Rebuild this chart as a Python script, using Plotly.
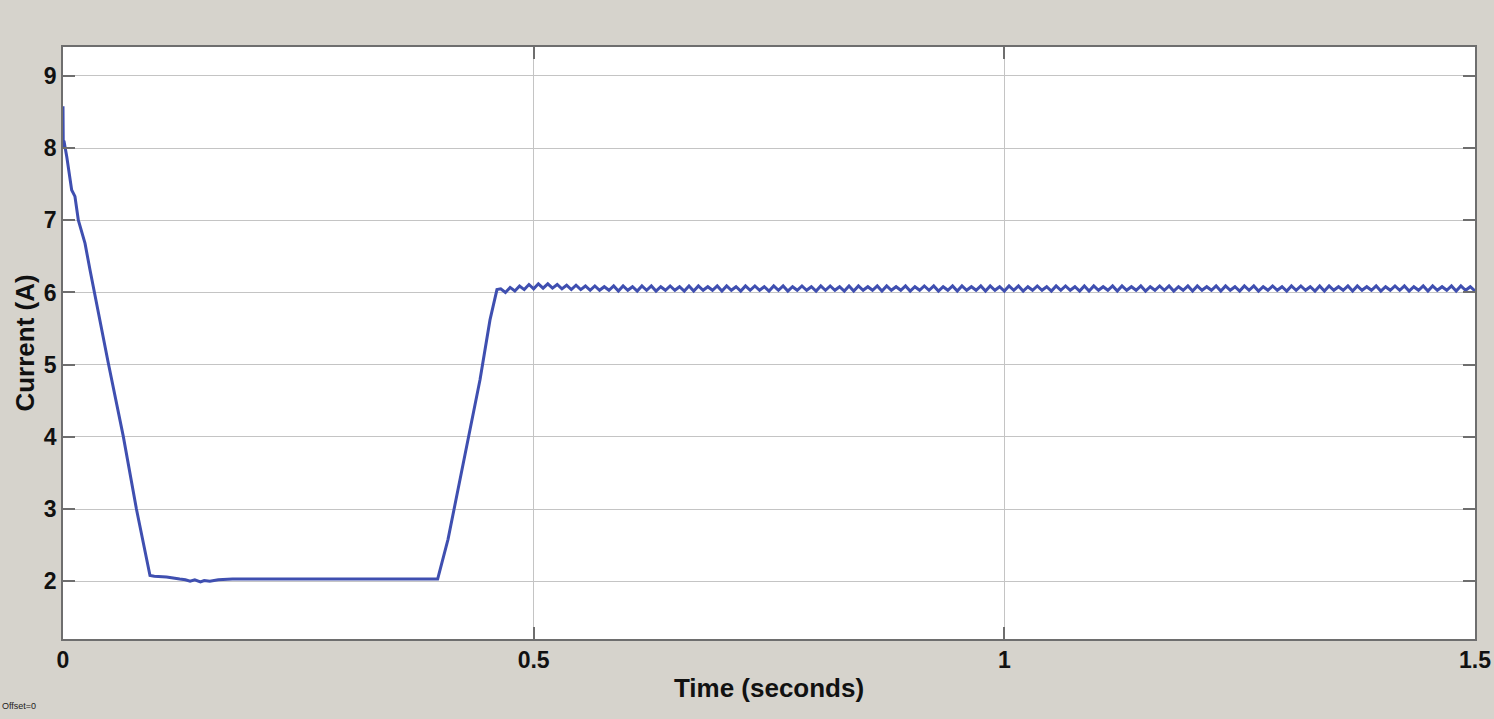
import numpy as np
import plotly.graph_objects as go

# ---- data ----
transient_t = [0.0, 0.0003, 0.001, 0.004, 0.0074, 0.0092, 0.0127, 0.0163, 0.0234, 0.0287,
               0.048, 0.064, 0.078, 0.0924, 0.097, 0.11, 0.124, 0.13, 0.135, 0.14,
               0.146, 0.15, 0.156, 0.165, 0.18, 0.25, 0.32, 0.398, 0.409, 0.443,
               0.4536, 0.461]
transient_i = [8.58, 8.0, 8.1, 7.88, 7.6, 7.42, 7.33, 7.0, 6.68, 6.31,
               5.03, 4.01, 3.0, 2.08, 2.07, 2.06, 2.03, 2.02, 2.0, 2.02,
               1.99, 2.01, 2.0, 2.02, 2.03, 2.03, 2.03, 2.03, 2.58, 4.79,
               5.62, 6.04]

ripple_t0 = 0.465
ripple_dt = 0.005
ripple_i = [
    6.05, 6.00, 6.07, 6.02, 6.09, 6.04, 6.11, 6.05, 6.12, 6.06,
    6.12, 6.06, 6.11, 6.05, 6.10, 6.04, 6.10, 6.04, 6.09, 6.03,
    6.09, 6.03, 6.08, 6.03, 6.09, 6.02, 6.09, 6.03, 6.08, 6.02,
    6.09, 6.03, 6.09, 6.02, 6.08, 6.03, 6.09, 6.03, 6.08, 6.02,
    6.09, 6.02, 6.09, 6.03, 6.08, 6.03, 6.09, 6.02, 6.09, 6.03,
    6.08, 6.02, 6.09, 6.03, 6.09, 6.03, 6.08, 6.02, 6.09, 6.03,
    6.09, 6.02, 6.08, 6.03, 6.09, 6.03, 6.08, 6.02, 6.09, 6.03,
    6.09, 6.03, 6.08, 6.02, 6.09, 6.02, 6.09, 6.03, 6.08, 6.03,
    6.09, 6.02, 6.09, 6.03, 6.08, 6.03, 6.09, 6.02, 6.08, 6.03,
    6.09, 6.03, 6.09, 6.02, 6.08, 6.03, 6.09, 6.02, 6.09, 6.03,
    6.08, 6.03, 6.09, 6.02, 6.09, 6.03, 6.08, 6.02, 6.09, 6.03,
    6.09, 6.02, 6.08, 6.03, 6.09, 6.03, 6.08, 6.02, 6.09, 6.03,
    6.09, 6.03, 6.08, 6.02, 6.09, 6.02, 6.09, 6.03, 6.08, 6.03,
    6.09, 6.02, 6.09, 6.03, 6.08, 6.03, 6.09, 6.02, 6.08, 6.03,
    6.09, 6.03, 6.09, 6.02, 6.08, 6.03, 6.09, 6.02, 6.09, 6.03,
    6.08, 6.03, 6.09, 6.02, 6.09, 6.03, 6.08, 6.02, 6.09, 6.03,
    6.09, 6.02, 6.08, 6.03, 6.09, 6.03, 6.08, 6.02, 6.09, 6.03,
    6.09, 6.03, 6.08, 6.02, 6.09, 6.02, 6.09, 6.03, 6.08, 6.03,
    6.09, 6.02, 6.09, 6.03, 6.08, 6.03, 6.09, 6.02, 6.08, 6.03,
    6.09, 6.03, 6.09, 6.02, 6.08, 6.03, 6.09, 6.02, 6.09, 6.03,
    6.08, 6.03, 6.09, 6.02, 6.09, 6.03, 6.08, 6.02, 6.09, 6.03,
]

x_ticks = [0, 0.5, 1, 1.5]
x_tick_labels = ["0", "0.5", "1", "1.5"]
y_ticks = [2, 3, 4, 5, 6, 7, 8, 9]

ripple_t = ripple_t0 + ripple_dt * np.arange(len(ripple_i))
t = list(transient_t) + list(ripple_t)
i = list(transient_i) + list(ripple_i)

FONT = "Liberation Sans, Arial, sans-serif"
BG = "#d6d3cc"

fig = go.Figure()
fig.add_trace(go.Scatter(x=t, y=i, mode="lines",
                         line=dict(color="#3f4fb0", width=3),
                         showlegend=False, hoverinfo="skip"))

axis_common = dict(
    showgrid=True, gridcolor="#c4c4c4", gridwidth=1.2,
    showline=True, linecolor="#6e6e6e", linewidth=1.5, mirror="ticks",
    ticks="inside", ticklen=12, tickcolor="#6e6e6e", tickwidth=1.5,
    zeroline=False,
    tickfont=dict(family=FONT, size=23, color="#111111", weight="bold"),
)

fig.update_xaxes(range=[0, 1.5], tickvals=x_ticks, ticktext=x_tick_labels,
                 title=dict(text="Time (seconds)", standoff=6,
                            font=dict(family=FONT, size=26, color="#111111", weight="bold")),
                 **axis_common)
fig.update_yaxes(range=[1.2, 9.4], tickvals=y_ticks,
                 title=dict(text="Current (A)", standoff=2,
                            font=dict(family=FONT, size=26, color="#111111", weight="bold")),
                 **axis_common)

fig.add_annotation(text="Offset=0", xref="paper", yref="paper",
                   x=-0.0446, y=-0.113, xanchor="left", yanchor="middle",
                   showarrow=False, font=dict(family=FONT, size=9, color="#222222"))

fig.update_layout(
    width=1494, height=719,
    margin=dict(l=63, r=19, t=47, b=80, autoexpand=False),
    paper_bgcolor=BG, plot_bgcolor="white",
)

fig.write_html(
    "out.html",
    config={"displayModeBar": False},
    post_script="document.body.style.margin='0';document.body.style.background='" + BG + "';",
)
